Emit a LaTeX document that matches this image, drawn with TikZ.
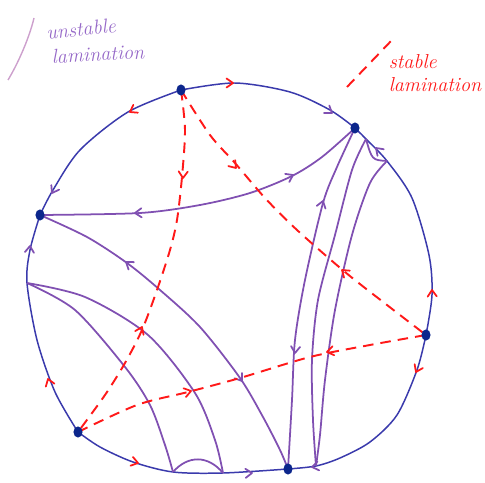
\documentclass[tikz,border=0pt]{standalone}
\usetikzlibrary{arrows.meta}
\definecolor{rim}{RGB}{58,58,172}
\definecolor{puncture}{RGB}{12,38,140}
\definecolor{unst}{RGB}{128,80,178}
\definecolor{stab}{RGB}{255,25,25}
\definecolor{unstlbl}{RGB}{150,105,200}
\definecolor{unstpen}{RGB}{205,160,205}
\tikzset{
  rimline/.style={rim,line width=.85pt},
  leaf/.style={unst,line width=1pt},
  sleaf/.style={stab,line width=1.1pt,dash pattern=on 6pt off 4pt},
  barbpen/.style={line width=1pt,line cap=round,line join=round},
  hand/.style={font=\fontsize{11.5}{13.5}\selectfont\itshape,align=left,inner sep=0pt},
}
% open arrow mark: x, y, direction, colour
\newcommand\tipat[4]{\draw[#4,barbpen] (#1,#2) ++({#3+145}:4.5pt) -- (#1,#2) -- ++({#3-145}:4.5pt);}
\begin{document}
\begin{tikzpicture}[x=0.02cm,y=-0.02cm]
\useasboundingbox (0,0) rectangle (485,483);
% punctures on the circle
\coordinate (p1) at (181,90);
\coordinate (p2) at (355,128);
\coordinate (p3) at (40,215);
\coordinate (p4) at (426,335);
\coordinate (p5) at (78,432);
\coordinate (p6) at (288,469);
% ends of the side leaves
\coordinate (u0) at (27,283);
\coordinate (b1) at (173,472);
\coordinate (b2) at (223,473);
\coordinate (t1) at (366,139);
\coordinate (t2) at (387,161);
\coordinate (c1) at (316,466);
% boundary circle
\draw[rimline] plot[smooth] coordinates {(p1) (235,83) (290,92) (330,110) (p2)};
\draw[rimline] plot[smooth] coordinates {(p2) (t1) (t2) (412,198) (429,255) (432,295) (p4)};
\draw[rimline] plot[smooth] coordinates {(p4) (417,370) (397,415) (370,442) (340,458) (c1) (p6)};
\draw[rimline] plot[smooth] coordinates {(p6) (b2) (b1) (133,462) (100,447) (p5)};
\draw[rimline] plot[smooth] coordinates {(p5) (55,392) (37,340) (u0) (30,250) (p3)};
\draw[rimline] plot[smooth] coordinates {(p3) (53,190) (80,150) (128,112) (p1)};
\tipat{233}{83}{0}{stab}
\tipat{332}{113}{-35}{unst}
\tipat{376}{148}{136}{unst}
\tipat{432}{290}{92}{stab}
\tipat{416}{372}{245}{stab}
\tipat{312}{467}{190}{unst}
\tipat{252}{473}{3}{unst}
\tipat{138}{463}{-15}{stab}
\tipat{48}{379}{109}{stab}
\tipat{30}{246}{85}{unst}
\tipat{52}{193}{240}{unst}
\tipat{130}{112}{210}{stab}
% unstable leaves
\draw[leaf] plot[smooth] coordinates {(p3) (140,213) (200,205) (250,193) (292,176) (322,157) (p2)};
\draw[leaf] plot[smooth] coordinates {(p3) (87,237) (127,263) (160,290) (200,327) (240,378) (263,417) (280,450) (p6)};
\draw[leaf] plot[smooth] coordinates {(p2) (337,167) (323,203) (305,280) (295,340) (292,400) (p6)};
\draw[leaf] plot[smooth] coordinates {(t1) (352,170) (335,235) (318,300) (312,360) (313,420) (c1)};
\draw[leaf] plot[smooth] coordinates {(t2) (370,183) (352,235) (335,310) (325,380) (320,435) (c1)};
\draw[leaf] (t1) .. controls (372,160) .. (t2);
\draw[leaf] plot[smooth] coordinates {(u0) (85,297) (148,335) (195,393) (215,440) (b2)};
\draw[leaf] plot[smooth] coordinates {(u0) (75,310) (125,367) (150,405) (165,445) (b1)};
\draw[leaf] (b1) .. controls (188,455) and (208,455) .. (b2);
\tipat{135}{213}{182}{unst}
\tipat{293}{175}{27}{unst}
\tipat{126}{262}{144}{unst}
\tipat{242}{381}{-55}{unst}
\tipat{323}{201}{73}{unst}
\tipat{295}{353}{265}{unst}
% stable leaves
\draw[sleaf] plot[smooth] coordinates {(p1) (185,130) (182,177) (177,220) (170,250) (157,290) (142,330) (125,363) (105,395) (p5)};
\draw[sleaf] plot[smooth] coordinates {(p1) (210,135) (235,163) (265,198) (297,230) (345,272) (387,305) (p4)};
\draw[sleaf] plot[smooth] coordinates {(p5) (137,405) (188,392) (240,378) (310,357) (370,345) (p4)};
\tipat{183}{178}{268}{stab}
\tipat{142}{327}{66}{stab}
\tipat{236}{168}{-49}{stab}
\tipat{342}{270}{140}{stab}
\tipat{191}{391}{15}{stab}
\tipat{327}{352}{191}{stab}
% labels
\draw[unstpen,line width=.8pt] (8,80) .. controls (20,60) and (30,35) .. (34,18);
\node[hand,unstlbl,rotate=6] (ulabel1) at (81,29) {unstable};
\node[hand,unstlbl,rotate=3] (ulabel2) at (98,54) {lamination};
\draw[sleaf] (347,87) -- (392,40);
\node[hand,stab] (slabel) at (435,73) {stable\\lamination};
\foreach \i in {1,...,6} \fill[puncture] (p\i) ellipse [x radius=2.6pt,y radius=3.2pt];
\end{tikzpicture}
\end{document}
